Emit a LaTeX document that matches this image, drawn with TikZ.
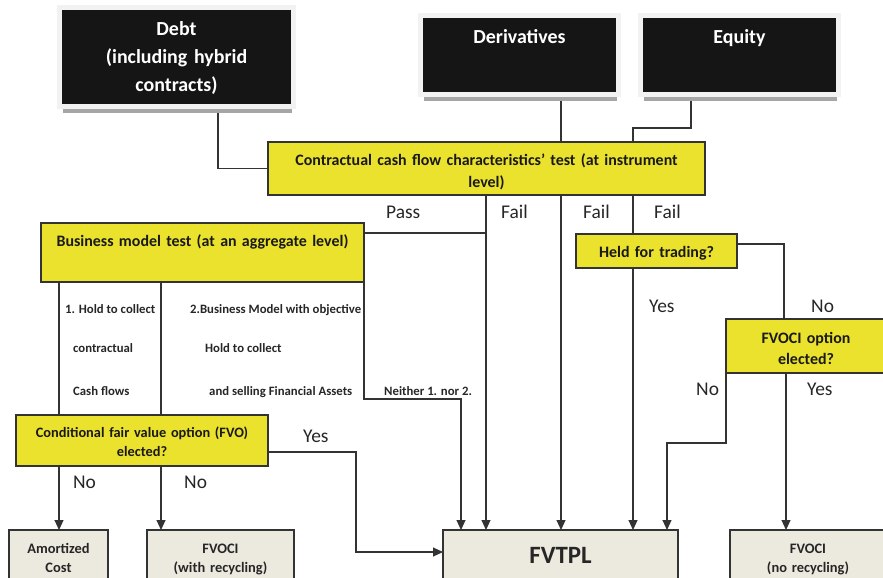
\documentclass[tikz,border=0pt]{standalone}
\usepackage{fontspec}
\setmainfont{Carlito}
\usetikzlibrary{arrows.meta,shadows,backgrounds}

\definecolor{boxyellow}{HTML}{EBE22E}
\definecolor{boxbeige}{HTML}{ECE9DF}
\definecolor{boxblack}{HTML}{151515}
\definecolor{linegray}{HTML}{333333}

\tikzset{
  base/.style={anchor=north west, inner sep=0pt, outer sep=0pt, align=center},
  srcbox/.style={base, fill=boxblack, text=white,
    font=\bfseries\fontsize{20}{28}\selectfont,
    drop shadow={shadow xshift=1bp, shadow yshift=-9bp, fill=black!35, opacity=1},
    preaction={draw=black!5, line width=10bp}},
  testbox/.style={base, fill=boxyellow, draw=linegray, line width=1.2bp,
    text=black!90, font=\bfseries\fontsize{16}{22}\selectfont},
  resbox/.style={base, fill=boxbeige, draw=linegray, line width=1.2bp,
    text=black!85, font=\bfseries\fontsize{14.5}{19.5}\selectfont},
  link/.style={draw=linegray, line width=1.1bp},
  arr/.style={link, -{Triangle[length=10bp,width=9bp]}},
  lbl/.style={anchor=base west, inner sep=0pt, text=black!85,
    font=\fontsize{19.5}{22}\selectfont},
  note/.style={anchor=base west, inner sep=0pt, text=black!85,
    font=\bfseries\fontsize{12.8}{14}\selectfont},
}

\begin{document}
\begin{tikzpicture}[x=1bp, y=-1bp]
    \useasboundingbox (0,0) rectangle (883,578);
    % Instrument types
    \node[srcbox, text width=229bp, text height=26bp, text depth=68bp] (debt) at (62,10)
        {Debt\\(including hybrid\\contracts)};
    \node[srcbox, text width=193bp, text height=26bp, text depth=48bp] (deriv) at (423,18) {Derivatives};
    \node[srcbox, text width=193bp, text height=26bp, text depth=48bp] (equity) at (643,18) {Equity};
    % Tests
    \node[testbox, text width=437bp, text height=24bp, text depth=29bp] (ccf) at (268,142)
        {Contractual cash flow characteristics’ test (at instrument\\level)};
    \node[testbox, text width=323bp, text height=23bp, text depth=36bp] (bm) at (41,223)
        {Business model test (at an aggregate level)};
    \node[testbox, text width=161bp, text height=23bp, text depth=11bp] (held) at (576,234)
        {Held for trading?};
    \node[testbox, text width=160bp, text height=24bp, text depth=30bp] (fvopt) at (726,319)
        {FVOCI option\\elected?};
    \node[testbox, text width=252bp, text height=22bp, text depth=29bp,
        font=\bfseries\fontsize{14.4}{20}\selectfont] (fvo) at (16,415)
        {Conditional fair value option (FVO)\\elected?};
    % Outcomes
    \node[resbox, text width=99bp, text height=23bp, text depth=27bp] (amort) at (9,530)
        {Amortized\\Cost};
    \node[resbox, text width=147bp, text height=23bp, text depth=27bp] (fvocirec) at (147,530)
        {FVOCI\\(with recycling)};
    \node[resbox, text width=235bp, text height=33bp, text depth=17bp,
        font=\bfseries\fontsize{25}{30}\selectfont] (fvtpl) at (443,530) {FVTPL};
    \node[resbox, text width=156bp, text height=23bp, text depth=27bp] (fvocino) at (730,530)
        {FVOCI\\(no recycling)};

    % Branch labels
    \node[lbl] (lPass) at (386,219) {Pass};
    \node[lbl] (lFailA) at (501,219) {Fail};
    \node[lbl] (lFailB) at (583,219) {Fail};
    \node[lbl] (lFailC) at (654,219) {Fail};
    \node[lbl] (lYesHft) at (649,312) {Yes};
    \node[lbl] (lNoHft) at (811,312) {No};
    \node[lbl] (lNoOpt) at (696,395) {No};
    \node[lbl] (lYesOpt) at (807,395) {Yes};
    \node[lbl] (lYesFvo) at (303,442) {Yes};
    \node[lbl] (lNoA) at (73,488) {No};
    \node[lbl] (lNoB) at (184,488) {No};
    \node[note] (nHoldA) at (65,313) {1. Hold to collect};
    \node[note] (nHoldB) at (73,352.5) {contractual};
    \node[note] (nHoldC) at (73,395) {Cash flows};
    \node[note] (nSellA) at (190,313) {2.Business Model with objective};
    \node[note] (nSellB) at (205,352.5) {Hold to collect};
    \node[note] (nSellC) at (209,395) {and selling Financial Assets};
    \node[note] (nNeither) at (384,395) {Neither 1. nor 2.};

    % Columns and corners of the connectors
    \coordinate (cA) at (218,0);
    \coordinate (cB) at (486,0);
    \coordinate (cC) at (561,0);
    \coordinate (cD) at (633,0);
    \coordinate (cE) at (784,0);
    \coordinate (cF) at (786,0);
    \coordinate (cG) at (59,0);
    \coordinate (cH) at (161,0);
    \coordinate (jEq) at (691,128);
    \coordinate (jPass) at (486,233);
    \coordinate (jNeither) at (461,399);
    \coordinate (jNo) at (667,443);
    \coordinate (jYes) at (356,452);

    \begin{scope}[on background layer]
        \draw[link] (debt.south -| cA) |- (ccf.west);
        \draw[link] (deriv.south -| cC) -- (ccf.north -| cC);
        \draw[link] (equity.south -| jEq) -- (jEq) -| (ccf.north -| cD);
        % Fail
        \draw[arr] (ccf.south -| cB) -- (fvtpl.north -| cB);
        \draw[arr] (ccf.south -| cC) -- (fvtpl.north -| cC);
        \draw[link] (ccf.south -| cD) -- (held.north -| cD);
        % Pass
        \draw[link] (bm.east |- jPass) -- (jPass);
        \draw[arr] (held.south -| cD) -- (fvtpl.north -| cD);
        \draw[link] ([yshift=7bp]held.east) -| (fvopt.north -| cE);
        \draw[arr] (fvopt.south west) |- (jNo) -- (fvtpl.north -| jNo);
        \draw[arr] (fvopt.south -| cF) -- (fvocino.north -| cF);
        % Business model branches
        \draw[arr] (bm.south east) |- (jNeither) -- (fvtpl.north -| jNeither);
        \draw[link] (bm.south -| cG) -- (fvo.north -| cG);
        \draw[link, line width=1.8bp] (bm.south -| cH) -- (fvo.north -| cH);
        \draw[arr] (fvo.south -| cG) -- (amort.north -| cG);
        \draw[arr] (fvo.south -| cH) -- (fvocirec.north -| cH);
        \draw[arr] (fvo.east |- jYes) -- (jYes) |- ([yshift=3bp]fvtpl.west);
    \end{scope}
\end{tikzpicture}
\end{document}
